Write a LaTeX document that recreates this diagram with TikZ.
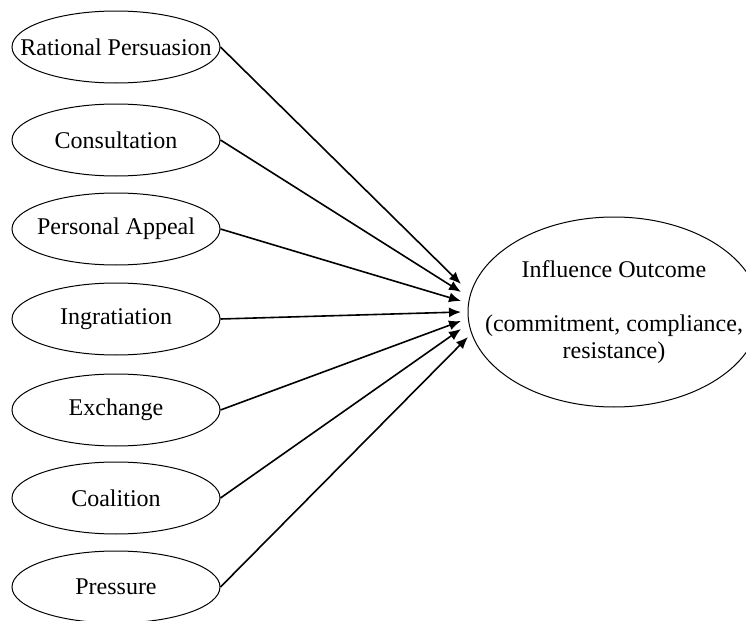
\documentclass[tikz,border=0pt]{standalone}
\usepackage{fontspec}
\setmainfont{Liberation Serif}
\usetikzlibrary{shapes.geometric,arrows.meta}

\begin{document}
\begin{tikzpicture}[x=0.5pt,y=-0.5pt,
	tactic/.style={ellipse, draw, line width=0.5pt, minimum width=104pt, minimum height=36pt, inner xsep=-16pt, inner ysep=0pt, font=\fontsize{12}{13.5}\selectfont},
	outcome/.style={ellipse, draw, line width=0.5pt, minimum width=146pt, minimum height=95pt, inner xsep=-14pt, inner ysep=0pt, align=center, font=\fontsize{12}{13.5}\selectfont},
	link/.style={line width=0.8pt, -{Latex[length=6pt,width=5pt]}}]
		%%%%% START %%%%%
		\useasboundingbox (0,0) rectangle (746,621);
		
		\node[tactic] (rational) at (116,47) {Rational Persuasion};
		\node[tactic] (consult) at (116,140) {Consultation};
		\node[tactic] (appeal) at (116,229) {Personal Appeal};
		\node[tactic] (ingrat) at (116,319) {Ingratiation};
		\node[tactic] (exchange) at (116,410) {Exchange};
		\node[tactic] (coalition) at (116,498) {Coalition};
		\node[tactic] (pressure) at (116,587) {Pressure};
		
		\node[outcome] (outcome) at (614,312) {Influence Outcome\\[13.5pt](commitment, compliance,\\resistance)};
		
		\coordinate (in1) at (461,284);
		\coordinate (in2) at (461,292);
		\coordinate (in3) at (461,301);
		\coordinate (in4) at (461,312);
		\coordinate (in5) at (461,321);
		\coordinate (in6) at (461,329);
		\coordinate (in7) at (468,337);
		
		\draw[link] (rational.east) -- (in1);
		\draw[link] (consult.east) -- (in2);
		\draw[link] (appeal.east) -- (in3);
		\draw[link] (ingrat.east) -- (in4);
		\draw[link] (exchange.east) -- (in5);
		\draw[link] (coalition.east) -- (in6);
		\draw[link] (pressure.east) -- (in7);
		
		%%%%% END %%%%%
\end{tikzpicture}
\end{document}
